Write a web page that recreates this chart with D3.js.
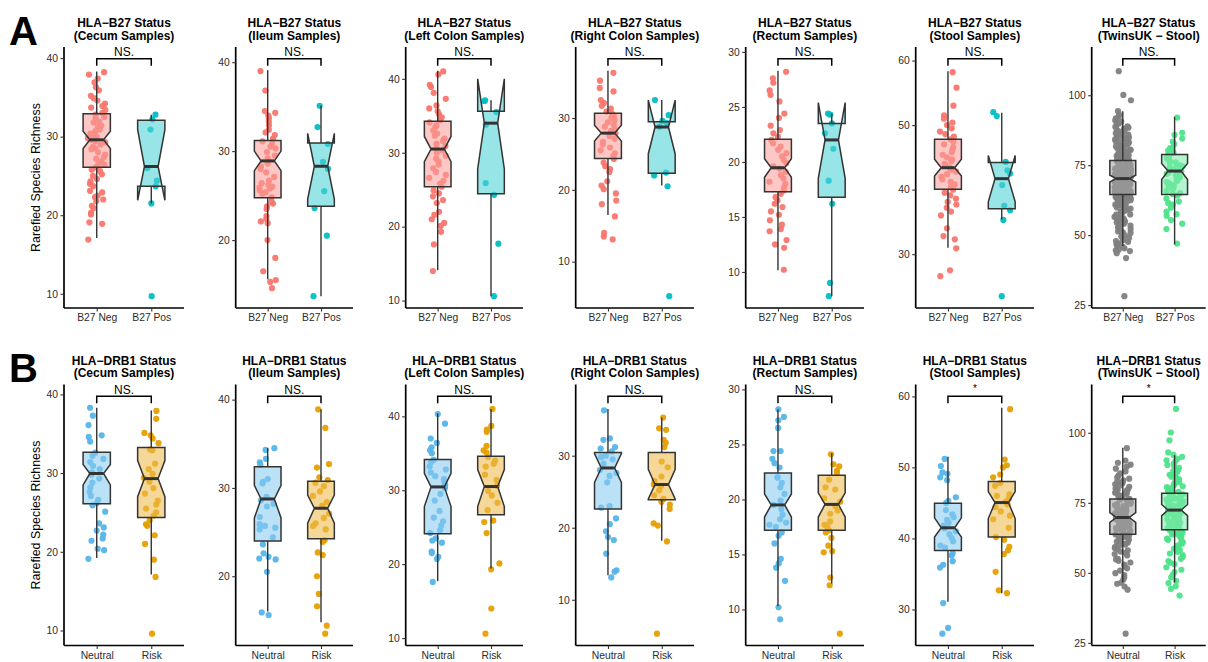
<!DOCTYPE html>
<html>
<head>
<meta charset="utf-8">
<script src="https://cdn.jsdelivr.net/npm/d3@7"></script>
<style>
  body { margin: 0; background: #fff; }
  svg { display: block; font-family: "Liberation Sans", Arial, sans-serif; }
</style>
</head>
<body>
<div id="chart"></div>
<script>
// ---- data ----
const regions = ["Cecum Samples", "Ileum Samples", "Left Colon Samples", "Right Colon Samples",
                 "Rectum Samples", "Stool Samples", "TwinsUK \u2212 Stool"];
const b27Groups = ["B27 Neg", "B27 Pos"];
const drb1Groups = ["Neutral", "Risk"];

const yTicks = [[10, 20, 30, 40], [20, 30, 40], [10, 20, 30, 40], [10, 20, 30],
                [10, 15, 20, 25, 30], [30, 40, 50, 60], [25, 50, 75, 100]];

const sigHeightB27 = [39.9, 40.37, 42.7, 38.24, 29.37, 60.26, 113.0];
const sigHeightDrb1 = [39.75, 40.37, 42.7, 38.24, 29.37, 60.0, 113.0];
const sigLabelB27 = ["NS.", "NS.", "NS.", "NS.", "NS.", "NS.", "NS."];
const sigLabelDrb1 = ["NS.", "NS.", "NS.", "NS.", "NS.", "*", "*"];

// box stats: [lower whisker, q1, median, q3, upper whisker, notch low, notch high]
const boxB27Neg = [
  [17.1, 26.1, 29.6, 32.9, 38.3, 28.5, 30.7],
  [15.6, 24.75, 28.9, 31.2, 39.1, 27.8, 30.0],
  [14.1, 25.4, 30.5, 34.25, 41.1, 28.8, 32.2],
  [16.5, 24.35, 27.9, 30.65, 36.6, 26.8, 29.0],
  [10.15, 17.3, 19.47, 22.07, 28.3, 18.6, 20.3],
  [31.0, 40.05, 43.4, 47.8, 58.35, 42.1, 44.7],
  [46.1, 64.5, 70.2, 76.7, 94.3, 69.0, 71.4]
];
const boxB27Pos = [
  [21.5, 23.7, 26.2, 32.1, 32.8, 21.9, 30.9],
  [13.7, 23.8, 28.3, 30.9, 35.1, 24.6, 32.0],
  [10.6, 24.45, 34.0, 35.6, 37.1, 27.8, 40.0],
  [20.6, 22.3, 28.75, 29.5, 32.5, 25.0, 32.5],
  [7.8, 16.8, 22.0, 23.5, 24.4, 18.5, 25.4],
  [35.4, 37.05, 41.7, 44.2, 51.9, 38.1, 45.3],
  [46.7, 64.5, 72.9, 78.8, 92.3, 69.9, 75.6]
];
const boxNeutral = [
  [19.2, 26.1, 29.95, 32.65, 38.3, 28.5, 31.1],
  [16.0, 24.0, 28.75, 32.4, 34.5, 26.6, 30.3],
  [17.7, 24.1, 30.45, 34.15, 40.4, 27.8, 32.3],
  [13.4, 22.6, 28.3, 30.46, 36.5, 26.3, 30.3],
  [10.3, 17.2, 19.5, 22.4, 28.2, 18.4, 20.5],
  [31.1, 38.3, 41.5, 44.95, 51.5, 40.2, 42.9],
  [46.6, 63.8, 69.75, 76.4, 94.7, 68.0, 71.5]
];
const boxRisk = [
  [17.1, 24.35, 29.3, 33.25, 37.95, 27.0, 31.6],
  [14.8, 24.25, 27.7, 30.76, 38.9, 26.0, 29.2],
  [19.4, 26.7, 30.5, 34.6, 41.0, 27.8, 32.8],
  [18.2, 23.9, 26.0, 30.46, 35.3, 24.0, 28.1],
  [12.35, 17.2, 19.55, 22.2, 24.2, 18.4, 20.6],
  [32.3, 40.2, 45.05, 48.0, 58.4, 42.8, 46.6],
  [46.6, 65.4, 72.4, 78.4, 92.0, 70.4, 74.4]
];

// sample points (rarefied species richness)
const cecumB27Neg = [38.2, 37.9, 37.4, 36.9, 36.3, 35.9, 35.2, 34.9, 34.6, 34.2, 33.9, 33.7, 33.4, 33.0, 32.8, 32.5,
  32.3, 31.9, 31.8, 31.4, 31.2, 30.9, 30.7, 30.4, 30.2, 30.0, 29.8, 29.6, 29.4, 29.3, 29.0, 28.7, 28.5, 28.4, 28.0,
  27.7, 27.4, 27.2, 26.9, 26.5, 26.4, 26.1, 25.8, 25.6, 25.2, 25.0, 24.6, 24.3, 24.0, 23.7, 23.1, 22.9, 22.5, 22.3,
  22.0, 21.8, 21.2, 20.9, 20.3, 20.1, 19.1, 18.9, 16.9];
const cecumB27Pos = [32.8, 32.2, 30.9, 26.0, 24.4, 23.7, 21.5, 9.7];
const ileumB27Neg = [39.0, 36.8, 34.5, 34.3, 34.0, 33.7, 33.3, 32.9, 32.4, 32.1, 31.8, 31.4, 31.1, 30.8, 30.5, 30.3,
  29.9, 29.5, 29.2, 28.9, 28.6, 28.3, 28.0, 27.6, 27.1, 26.7, 26.4, 26.2, 26.0, 25.9, 25.8, 25.6, 25.4, 25.2, 24.8,
  24.3, 24.1, 23.8, 23.5, 22.7, 22.4, 22.1, 21.9, 20.0, 18.0, 16.5, 15.5, 15.3, 14.6];
const ileumB27Pos = [35.1, 32.7, 30.8, 28.8, 28.0, 25.5, 23.6, 20.5, 13.7];
const leftB27Neg = [41.0, 40.6, 39.2, 38.9, 38.1, 37.3, 36.4, 36.0, 35.6, 35.2, 34.8, 34.4, 34.1, 33.7, 33.4, 33.0,
  32.6, 32.3, 31.9, 31.6, 31.2, 30.9, 30.6, 30.3, 30.0, 29.6, 29.2, 28.8, 28.4, 27.9, 27.4, 27.0, 26.6, 26.2, 25.8,
  25.4, 24.9, 24.5, 24.1, 23.6, 23.2, 22.0, 21.6, 21.0, 20.5, 20.1, 19.3, 17.6, 14.0];
const leftB27Pos = [37.1, 37.0, 35.5, 33.8, 25.9, 24.3, 17.7, 10.6];
const rightB27Neg = [36.3, 35.2, 34.2, 33.7, 32.5, 32.1, 31.7, 31.3, 30.9, 30.6, 30.3, 30.0, 29.7, 29.4, 29.1, 28.8,
  28.5, 28.2, 27.9, 27.5, 27.1, 26.7, 26.3, 25.9, 25.5, 25.1, 24.7, 24.3, 23.8, 23.3, 22.9, 22.5, 21.2, 20.6, 20.1,
  19.5, 18.5, 18.0, 16.3, 14.0, 13.5, 13.1];
const rightB27Pos = [32.5, 30.4, 29.6, 29.3, 28.8, 22.4, 22.0, 20.5, 5.2];
const rectumB27Neg = [28.2, 27.6, 27.2, 26.5, 26.1, 25.5, 24.4, 24.0, 23.3, 22.9, 22.6, 22.3, 22.0, 21.7, 21.4, 21.1,
  20.8, 20.5, 20.2, 19.9, 19.6, 19.4, 19.1, 18.8, 18.5, 18.2, 18.0, 17.7, 17.4, 17.1, 16.8, 16.5, 16.2, 15.9, 15.5,
  15.2, 14.7, 14.3, 13.9, 13.7, 12.9, 12.5, 12.2, 10.2];
const rectumB27Pos = [24.4, 24.3, 23.5, 22.6, 21.2, 18.3, 16.2, 9.0, 7.8];
const stoolB27Neg = [58.2, 55.8, 53.0, 51.5, 51.0, 50.4, 50.0, 49.5, 49.0, 48.6, 48.2, 47.8, 47.4, 47.0, 46.6, 46.2,
  45.8, 45.4, 45.0, 44.7, 44.4, 44.0, 43.7, 43.4, 43.1, 42.8, 42.4, 42.0, 41.6, 41.2, 40.8, 40.4, 40.0, 39.5, 39.1,
  38.6, 38.1, 37.7, 37.2, 36.6, 36.0, 34.0, 32.8, 32.3, 30.9, 27.5, 26.6];
const stoolB27Pos = [52.0, 51.4, 44.3, 43.0, 42.5, 40.7, 37.5, 36.8, 35.3, 23.5];
const twinsB27Neg = [108.6, 100.1, 98.2, 94.3, 93.1, 92.4, 91.0, 90.6, 90.2, 89.5, 88.9, 88.7, 88.1, 87.6, 87.3, 87.0,
  86.4, 86.1, 85.9, 85.1, 84.9, 84.7, 84.2, 83.9, 83.6, 83.1, 82.8, 82.5, 82.2, 81.7, 81.5, 81.3, 80.9, 80.6, 80.4,
  80.0, 79.8, 79.6, 79.2, 78.9, 78.7, 78.5, 78.1, 77.8, 77.6, 77.5, 77.2, 76.9, 76.8, 76.6, 76.3, 76.0, 75.9, 75.7,
  75.4, 75.1, 74.9, 74.8, 74.6, 74.3, 74.0, 73.9, 73.8, 73.5, 73.2, 73.0, 72.9, 72.7, 72.5, 72.2, 72.0, 71.9, 71.7,
  71.5, 71.2, 71.0, 70.9, 70.8, 70.5, 70.3, 70.1, 69.9, 69.8, 69.6, 69.4, 69.2, 69.0, 68.9, 68.7, 68.5, 68.2, 68.0,
  67.9, 67.7, 67.5, 67.2, 67.0, 66.8, 66.7, 66.4, 66.2, 65.9, 65.8, 65.6, 65.3, 65.0, 64.8, 64.7, 64.4, 64.1, 63.8,
  63.6, 63.4, 63.1, 62.7, 62.5, 62.3, 61.9, 61.5, 61.3, 61.1, 60.7, 60.2, 59.8, 59.5, 59.3, 58.8, 58.3, 57.7, 57.4,
  57.1, 56.5, 55.9, 55.2, 54.8, 54.5, 53.8, 53.0, 52.2, 51.3, 50.8, 50.4, 49.5, 48.3, 47.6, 47.1, 46.2, 45.3, 44.8,
  44.3, 43.5, 41.8, 28.2,
  91.7, 89.9, 88.4, 86.8, 85.6, 84.4, 83.3, 82.0, 81.0, 80.2, 79.4, 78.3, 77.9, 77.0, 76.4, 75.5, 75.2, 74.7, 74.4,
  74.1, 73.7, 73.3, 72.8, 72.4, 72.1, 71.8, 71.4, 71.1, 70.7, 70.4, 70.0, 69.7, 69.3, 69.1, 68.8, 68.4, 68.1, 67.8,
  67.4, 67.1, 66.9, 66.5, 66.0, 65.7, 65.4, 65.1, 64.9, 64.5, 64.2, 63.9, 63.5, 63.0, 62.6, 62.1, 61.7, 61.2, 60.9,
  60.4, 59.9, 59.1, 58.6, 58.0, 57.3, 56.8, 56.1, 55.5, 54.9, 54.1, 53.4, 52.7, 51.8, 51.0, 49.9, 49.0, 47.9, 46.7,
  45.8, 44.6];
const twinsB27Pos = [92.0, 86.6, 85.8, 83.4, 82.5, 81.1, 80.2, 79.4, 78.6, 78.0, 77.3, 76.5, 75.9, 75.2, 74.6, 74.1,
  73.6, 73.0, 72.4, 71.9, 71.2, 70.6, 70.0, 69.4, 68.7, 68.1, 67.2, 66.5, 65.8, 65.0, 64.2, 63.1, 62.0, 60.9, 59.8,
  58.4, 56.9, 55.4, 54.1, 52.2, 47.0, 84.5, 80.8, 77.7, 76.0, 74.9, 72.7, 71.5, 69.0, 67.6, 64.7, 61.5, 57.5];

const cecumNeutral = [38.3, 37.3, 36.1, 34.8, 34.6, 34.0, 32.6, 32.2, 31.8, 31.4, 30.9, 30.5, 30.1, 29.8, 29.3, 28.8,
  28.2, 27.6, 27.1, 26.6, 26.2, 25.9, 25.1, 23.6, 23.1, 22.7, 22.2, 21.7, 21.4, 20.4, 20.2, 19.1];
const cecumRisk = [37.9, 36.9, 35.1, 34.8, 34.4, 33.8, 33.0, 32.9, 31.2, 30.5, 29.9, 29.4, 28.9, 28.1, 27.4, 26.5,
  26.0, 25.5, 25.0, 24.6, 24.0, 23.5, 23.3, 22.1, 21.0, 19.0, 16.8, 9.6];
const ileumNeutral = [34.5, 34.3, 33.3, 32.9, 32.6, 31.0, 30.7, 30.5, 29.0, 28.6, 28.2, 27.9, 26.7, 25.9, 25.7, 25.5,
  25.3, 24.4, 23.6, 22.6, 22.2, 22.0, 21.9, 20.5, 15.9, 15.6];
const ileumRisk = [38.9, 36.8, 32.7, 32.3, 31.2, 30.9, 30.6, 30.2, 29.6, 29.1, 28.4, 28.0, 27.1, 26.6, 26.0, 25.7,
  25.3, 24.1, 23.9, 22.7, 22.4, 20.0, 18.0, 16.6, 14.4, 13.5];
const leftNeutral = [40.3, 39.0, 37.0, 36.4, 35.8, 35.4, 35.0, 34.1, 33.8, 33.2, 32.8, 32.4, 31.9, 31.5, 31.0, 30.7,
  30.3, 29.5, 28.6, 27.2, 26.3, 25.8, 25.2, 24.6, 24.2, 23.5, 23.2, 22.9, 21.7, 21.5, 21.0, 20.7, 17.6];
const leftRisk = [41.0, 38.7, 38.2, 37.9, 36.0, 35.4, 35.1, 34.5, 34.0, 33.6, 33.2, 32.1, 31.4, 30.6, 29.9, 29.3,
  28.3, 27.3, 25.9, 25.7, 24.2, 20.1, 19.3, 14.0, 10.6];
const rightNeutral = [36.3, 32.4, 32.2, 31.2, 31.0, 30.6, 30.0, 29.8, 29.5, 28.9, 28.0, 27.6, 27.2, 26.3, 23.0, 22.8,
  21.3, 20.5, 19.5, 18.7, 18.3, 16.4, 14.1, 13.9, 13.1];
const rightRisk = [35.3, 33.8, 33.6, 32.2, 31.8, 31.2, 29.2, 28.4, 27.1, 26.5, 26.0, 25.8, 25.2, 24.5, 24.0, 23.6,
  23.2, 22.6, 20.6, 20.3, 18.1, 5.3];
const rectumNeutral = [28.2, 27.5, 27.2, 26.5, 24.4, 24.4, 23.7, 23.3, 22.9, 22.0, 22.0, 21.5, 21.1, 20.5, 19.9, 19.5,
  19.1, 18.6, 18.2, 17.9, 17.7, 17.5, 17.0, 16.7, 16.0, 14.6, 14.2, 13.8, 12.6, 10.2, 9.1];
const rectumRisk = [24.1, 23.2, 23.0, 22.6, 22.4, 21.8, 21.1, 20.9, 20.1, 19.8, 19.4, 19.0, 18.7, 18.0, 17.7, 17.5,
  17.2, 17.0, 16.5, 15.8, 15.3, 15.2, 12.9, 12.2, 7.8];
const stoolNeutral = [51.2, 50.2, 49.3, 49.1, 48.6, 48.2, 45.8, 45.3, 45.0, 44.0, 43.4, 43.0, 42.6, 42.2, 41.8, 41.4,
  41.0, 40.6, 40.1, 39.6, 39.0, 38.7, 37.9, 37.6, 36.8, 36.3, 35.9, 30.9, 27.4, 26.6];
const stoolRisk = [58.2, 51.1, 50.3, 50.0, 49.0, 48.6, 47.8, 47.4, 46.2, 46.0, 45.6, 45.2, 44.8, 44.4, 43.8, 43.2,
  42.7, 41.5, 40.2, 39.8, 38.8, 38.3, 37.8, 35.3, 32.7, 32.3];
const twinsNeutral = [94.5, 89.3, 88.6, 87.9, 86.2, 85.5, 84.1, 83.6, 83.0, 82.4, 81.6, 81.2, 80.7, 80.1, 79.7, 79.3,
  78.8, 78.4, 78.0, 77.4, 77.1, 76.9, 76.4, 76.1, 75.8, 75.3, 75.0, 74.7, 74.2, 73.9, 73.6, 73.1, 72.8, 72.5, 72.0,
  71.8, 71.6, 71.1, 70.9, 70.7, 70.2, 70.0, 69.8, 69.3, 69.1, 68.9, 68.4, 68.2, 68.0, 67.5, 67.3, 67.0, 66.6, 66.4,
  66.1, 65.6, 65.4, 65.1, 64.6, 64.3, 64.0, 63.5, 63.2, 63.0, 62.4, 62.1, 61.8, 61.1, 60.8, 60.4, 59.7, 59.2, 58.9,
  58.0, 57.6, 57.1, 56.2, 55.0, 54.3, 53.7, 52.3, 51.6, 50.8, 49.2, 48.4, 47.6, 46.5, 45.1, 44.0, 28.3,
  90.1, 87.2, 84.8, 82.7, 81.9, 79.9, 78.6, 77.7, 76.6, 75.5, 74.5, 73.3, 72.2, 71.3, 70.4, 69.5, 68.6, 67.7, 66.8,
  65.8, 64.8, 63.7, 62.7, 61.5, 60.1, 58.4, 56.7, 54.8, 52.9, 49.9, 46.1];
const twinsRisk = [108.5, 100.1, 97.3, 92.1, 91.4, 90.6, 89.8, 89.0, 88.2, 87.5, 86.7, 86.3, 85.9, 85.0, 84.6, 84.3,
  83.5, 83.1, 82.8, 82.0, 81.7, 81.3, 80.6, 80.2, 79.9, 79.2, 78.9, 78.6, 78.0, 77.7, 77.4, 76.8, 76.5, 76.2, 75.6,
  75.3, 75.1, 74.5, 74.2, 74.0, 73.4, 73.1, 72.9, 72.4, 72.2, 71.9, 71.4, 71.1, 70.9, 70.3, 70.0, 69.8, 69.2, 68.9,
  68.7, 68.1, 67.8, 67.5, 66.9, 66.6, 66.3, 65.7, 65.4, 65.1, 64.4, 64.0, 63.7, 63.0, 62.6, 62.2, 61.4, 60.9, 60.5,
  59.6, 59.0, 58.6, 57.5, 56.9, 56.3, 55.0, 54.2, 53.6, 52.0, 51.1, 50.3, 48.4, 47.1, 45.2, 44.3, 41.9,
  93.0, 90.2, 88.5, 86.0, 84.0, 82.4, 80.9, 79.6, 78.3, 77.1, 75.9, 74.8, 73.7, 72.6, 71.6, 70.6, 69.5, 68.4, 67.2,
  66.0, 64.7, 63.4, 61.8, 60.2, 58.1, 55.7, 53.1, 49.4, 46.3];

const b27Points = [
  [cecumB27Neg, cecumB27Pos], [ileumB27Neg, ileumB27Pos], [leftB27Neg, leftB27Pos], [rightB27Neg, rightB27Pos],
  [rectumB27Neg, rectumB27Pos], [stoolB27Neg, stoolB27Pos], [twinsB27Neg, twinsB27Pos]
];
const drb1Points = [
  [cecumNeutral, cecumRisk], [ileumNeutral, ileumRisk], [leftNeutral, leftRisk], [rightNeutral, rightRisk],
  [rectumNeutral, rectumRisk], [stoolNeutral, stoolRisk], [twinsNeutral, twinsRisk]
];

// ---- layout ----
const width = 1208, height = 662;
const panelLeft = [64, 235.7, 405.7, 575.7, 745.7, 915.7, 1091.7];
const panelRight = [184, 353, 523, 694, 864, 1034, 1205.7];
const rowTop = [47, 384.5];
const rowBottom = [308, 645.5];

const colB27 = ["#F8766D", "#00BFC4"];
const colDrb1 = ["#56B4E9", "#E69F00"];
const colTwins = ["#7F7F7F", "#4DE38A"];
const lineCol = "#333333";

const svg = d3.select("#chart").append("svg")
  .attr("width", width)
  .attr("height", height);

// deterministic horizontal jitter (position only)
function jitter(i, g) {
  const s = Math.sin((i + 1) * 12.9898 + g * 78.233) * 43758.5453;
  return (s - Math.floor(s)) * 2 - 1;
}

function drawPanel(row, col, groupNames, points, box, colors, sigY, sigLabel, title) {
  const top = rowTop[row], bottom = rowBottom[row];
  const left = panelLeft[col], right = panelRight[col];

  const lo = d3.min(points.flat());
  const span = sigY - lo;
  const y = d3.scaleLinear()
    .domain([lo - span * 0.05, sigY + span * 0.05])
    .range([bottom, top]);
  const x = d3.scalePoint()
    .domain(groupNames)
    .range([left, right])
    .padding(0.6);
  const step = x.step();
  const bw = step * 0.5;

  const g = svg.append("g");

  // jittered points
  groupNames.forEach((name, gi) => {
    g.append("g").selectAll("circle")
      .data(points[gi])
      .join("circle")
      .attr("cx", (d, i) => x(name) + jitter(i, gi + col * 2 + row * 20) * step * 0.16)
      .attr("cy", d => y(d))
      .attr("r", 3.1)
      .attr("fill", colors[gi])
      .attr("opacity", 0.95);
  });

  // notched boxes
  groupNames.forEach((name, gi) => {
    const [wlo, q1, med, q3, whi, nlo, nhi] = box[gi];
    const cx = x(name), x0 = cx - bw / 2, x1 = cx + bw / 2, inset = bw * 0.25;
    const lightFill = d3.interpolateRgb(colors[gi], "#ffffff")(0.3);

    g.append("line").attr("x1", cx).attr("x2", cx).attr("y1", y(q3)).attr("y2", y(whi))
      .attr("stroke", lineCol).attr("stroke-width", 1.4);
    g.append("line").attr("x1", cx).attr("x2", cx).attr("y1", y(q1)).attr("y2", y(wlo))
      .attr("stroke", lineCol).attr("stroke-width", 1.4);

    const poly = [
      [x0, y(q3)], [x0, y(nhi)], [x0 + inset, y(med)], [x0, y(nlo)], [x0, y(q1)],
      [x1, y(q1)], [x1, y(nlo)], [x1 - inset, y(med)], [x1, y(nhi)], [x1, y(q3)]
    ];
    g.append("path")
      .attr("d", "M" + poly.map(p => p.join(",")).join("L") + "Z")
      .attr("fill", lightFill)
      .attr("fill-opacity", 0.58)
      .attr("stroke", lineCol)
      .attr("stroke-width", 1.5)
      .attr("stroke-linejoin", "miter");
    g.append("line")
      .attr("x1", x0 + inset).attr("x2", x1 - inset)
      .attr("y1", y(med)).attr("y2", y(med))
      .attr("stroke", lineCol).attr("stroke-width", 3);
  });

  // significance bracket
  const xa = x(groupNames[0]), xb = x(groupNames[1]), ys = y(sigY);
  g.append("path")
    .attr("d", `M${xa},${ys + 7}V${ys}H${xb}V${ys + 7}`)
    .attr("fill", "none").attr("stroke", "#000").attr("stroke-width", 1.5);
  g.append("text")
    .attr("x", (xa + xb) / 2).attr("y", sigLabel === "*" ? ys - 4 : ys - 2.5)
    .attr("text-anchor", "middle")
    .style("font-size", sigLabel === "*" ? "10px" : "12px")
    .text(sigLabel);

  // axes
  const yAxis = g.append("g")
    .attr("transform", `translate(${left},0)`)
    .call(d3.axisLeft(y).tickValues(yTicks[col]).tickSize(3.5).tickPadding(2.5).tickSizeOuter(0));
  const xAxis = g.append("g")
    .attr("transform", `translate(0,${bottom})`)
    .call(d3.axisBottom(x).tickSize(3.5).tickPadding(2.5).tickSizeOuter(0));
  [yAxis, xAxis].forEach(a => {
    a.select(".domain").attr("stroke", "#000").attr("stroke-width", 1.7);
    a.selectAll(".tick line").attr("stroke", "#333").attr("stroke-width", 1.1);
    a.selectAll(".tick text").attr("fill", "#2b2b2b")
      .style("font-size", "10.3px").style("font-family", "Liberation Sans, Arial, sans-serif");
  });
  // axis lines span the full panel
  yAxis.select(".domain").attr("d", `M0,${top}V${bottom}`);
  xAxis.select(".domain").attr("d", `M${left},0H${right}`);

  // title
  const tx = (left + right) / 2;
  g.append("text").attr("x", tx).attr("y", top - 20)
    .attr("text-anchor", "middle").style("font-size", "12px").style("font-weight", "bold")
    .text(title[0]);
  g.append("text").attr("x", tx).attr("y", top - 7.5)
    .attr("text-anchor", "middle").style("font-size", "12px").style("font-weight", "bold")
    .text(title[1]);
}

regions.forEach((reg, col) => {
  const twins = col === 6;
  drawPanel(0, col, b27Groups, b27Points[col], [boxB27Neg[col], boxB27Pos[col]],
    twins ? colTwins : colB27, sigHeightB27[col], sigLabelB27[col],
    ["HLA\u2212B27 Status", "(" + reg + ")"]);
  drawPanel(1, col, drb1Groups, drb1Points[col], [boxNeutral[col], boxRisk[col]],
    twins ? colTwins : colDrb1, sigHeightDrb1[col], sigLabelDrb1[col],
    ["HLA\u2212DRB1 Status", "(" + reg + ")"]);
});

// y axis titles
[0, 1].forEach(r => {
  svg.append("text")
    .attr("transform", `translate(40,${(rowTop[r] + rowBottom[r]) / 2}) rotate(-90)`)
    .attr("text-anchor", "middle")
    .style("font-size", "12.4px")
    .text("Rarefied Species Richness");
});

// panel tags
svg.append("text").attr("x", 9).attr("y", 45)
  .style("font-size", "40px").style("font-weight", "bold").text("A");
svg.append("text").attr("x", 9).attr("y", 382)
  .style("font-size", "40px").style("font-weight", "bold").text("B");
</script>
</body>
</html>
